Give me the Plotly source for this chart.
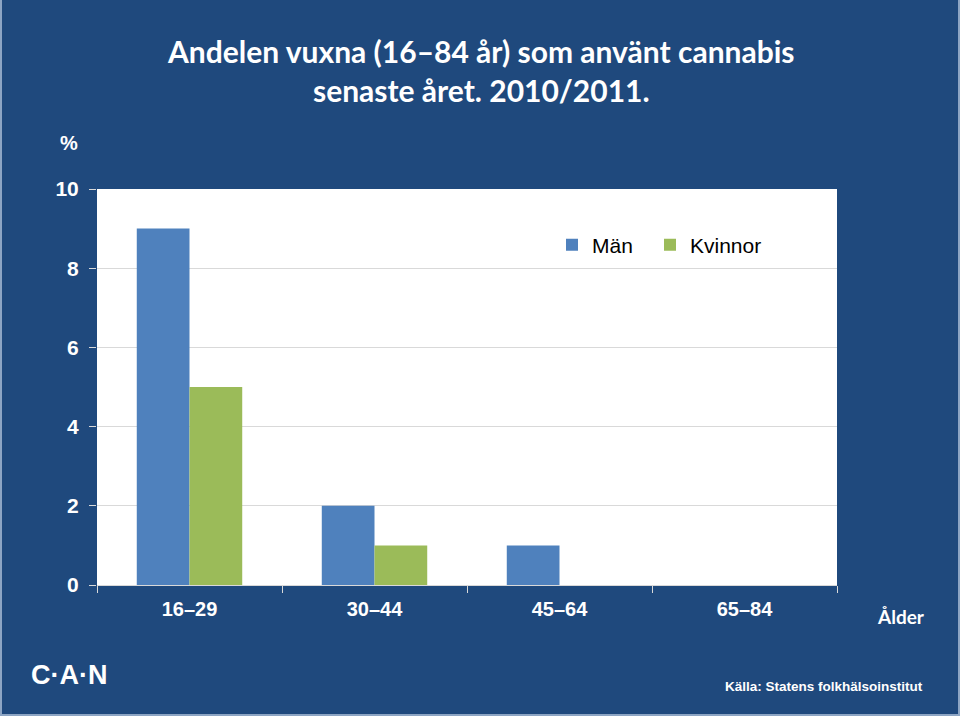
import plotly.graph_objects as go

categories = ["16–29", "30–44", "45–64", "65–84"]
man_values = [9, 2, 1, 0]
kvinnor_values = [5, 1, 0, 0]
y_ticks = [0, 2, 4, 6, 8, 10]

BG = "#1F497D"
W, H = 960, 716
L, R, T, B = 97, 123, 189, 131
PW, PH = W - L - R, H - T - B


def px(x):
    return (x - L) / PW


def py(y):
    return (H - B - y) / PH


fig = go.Figure()
fig.add_trace(go.Bar(name="Män", x=categories, y=man_values, legend="legend",
                     marker=dict(color="#4F81BD", line=dict(width=0))))
fig.add_trace(go.Bar(name="Kvinnor", x=categories, y=kvinnor_values, legend="legend2",
                     marker=dict(color="#9BBB59", line=dict(width=0))))

legend_font = dict(family="Liberation Sans, Arial", size=21, color="black")

fig.update_layout(
    width=W, height=H,
    margin=dict(l=L, r=R, t=T, b=B),
    paper_bgcolor=BG,
    plot_bgcolor="white",
    barmode="group",
    bargap=0.43,
    bargroupgap=0,
    showlegend=True,
    legend=dict(orientation="h", x=px(552), y=py(245), xanchor="left", yanchor="middle",
                font=legend_font, bgcolor="rgba(0,0,0,0)", itemclick=False),
    legend2=dict(orientation="h", x=px(650), y=py(245), xanchor="left", yanchor="middle",
                 font=legend_font, bgcolor="rgba(0,0,0,0)", itemclick=False),
    xaxis=dict(
        type="category",
        tickson="boundaries",
        ticks="outside", ticklen=7, tickcolor="#D9D9D9", tickwidth=1,
        showline=True, linecolor="#D9D9D9", linewidth=1,
        showgrid=False,
        ticklabelstandoff=6,
        tickfont=dict(family="Liberation Sans Narrow, Arial Narrow, Liberation Sans", size=20,
                      color="white", weight="bold"),
    ),
    yaxis=dict(
        range=[0, 10], tickvals=y_ticks,
        ticks="outside", ticklen=7, tickcolor="#D9D9D9", tickwidth=1,
        showgrid=True, gridcolor="#D9D9D9", gridwidth=1,
        zeroline=False, showline=False,
        ticklabelstandoff=6,
        tickfont=dict(family="Liberation Sans, Arial", size=21, color="white", weight="bold"),
    ),
    annotations=[
        dict(text="Andelen vuxna (16–84 år) som använt cannabis<br>senaste året. 2010/2011.",
             x=px(481), y=py(71), xref="paper", yref="paper", showarrow=False,
             xanchor="center", yanchor="middle",
             font=dict(family="Lato, Open Sans", size=30, color="white", weight="bold")),
        dict(text="%", x=px(69), y=py(143), xref="paper", yref="paper", showarrow=False,
             xanchor="center", yanchor="middle",
             font=dict(family="Liberation Sans, Arial", size=20, color="white", weight="bold")),
        dict(text="Ålder", x=px(901), y=py(616), xref="paper", yref="paper", showarrow=False,
             xanchor="center", yanchor="middle",
             font=dict(family="Lato, Open Sans", size=19, color="white", weight="bold")),
        dict(text="Källa: Statens folkhälsoinstitut", x=px(925), y=py(686), xref="paper", yref="paper",
             showarrow=False, xanchor="right", yanchor="middle",
             font=dict(family="Liberation Sans Narrow, Arial Narrow, Liberation Sans", size=13.5,
                       color="white", weight="bold")),
        dict(text="C·A·N", x=px(29), y=py(675), xref="paper", yref="paper", showarrow=False,
             xanchor="left", yanchor="middle",
             font=dict(family="Liberation Sans, Arial", size=27, color="white", weight="bold")),
    ],
    shapes=[
        dict(type="path", xref="paper", yref="paper",
             path=f"M {px(1)},{py(0)} L {px(1)},{py(715)} L {px(959)},{py(715)} L {px(959)},{py(0)}",
             line=dict(color="#8DA5C4", width=2)),
    ],
)

fig.write_html("out.html",
               config={"displayModeBar": False},
               post_script="document.body.style.margin='0';document.body.style.padding='0';"
                           "document.body.style.background='" + BG + "';")
